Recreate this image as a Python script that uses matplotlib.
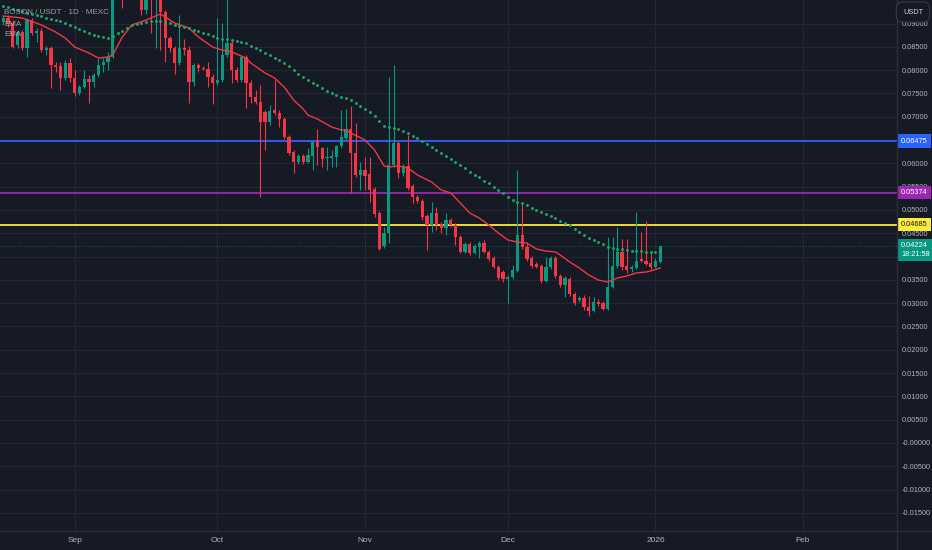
import numpy as np
import pandas as pd
import matplotlib
matplotlib.use("Agg")
import matplotlib.pyplot as plt
from matplotlib.lines import Line2D

# BOSON/USDT daily candles, 2025-08-17 .. 2026-01-02 (prices in 1e-3 USDT)
start_date = "2025-08-17"
opens = [90.34, 91.20, 90.12, 85.40, 88.19, 84.76, 90.77, 87.98, 88.41, 84.33,
         84.76, 81.11, 80.90, 78.32, 81.54, 78.32, 75.10, 76.39, 78.11, 77.46,
         78.97, 81.11, 81.75, 82.83, 97.21, 100.43, 98.28, 99.35, 96.78, 98.28,
         92.91, 96.13, 95.49, 96.35, 92.48, 86.91, 84.76, 81.54, 84.76, 84.33,
         77.46, 81.11, 80.47, 80.25, 78.54, 77.25, 77.89, 83.26, 85.83, 80.04,
         77.89, 82.83, 77.25, 74.24, 73.17, 71.02, 68.88, 71.45, 70.81, 69.52,
         65.66, 62.44, 60.30, 61.58, 60.30, 61.58, 64.80, 63.30, 61.15, 61.15,
         61.37, 63.73, 65.45, 67.38, 62.23, 57.51, 58.58, 57.72, 54.50, 49.35,
         42.27, 45.06, 59.65, 64.37, 57.93, 59.44, 55.14, 52.79, 51.93, 48.71,
         46.78, 49.35, 46.99, 46.13, 47.85, 46.78, 44.20, 40.98, 42.70, 40.77,
         42.05, 42.91, 40.98, 39.69, 37.76, 36.69, 35.19, 35.62, 36.90, 44.63,
         42.05, 39.69, 38.41, 37.98, 34.76, 37.76, 39.69, 35.83, 33.90, 35.19,
         31.97, 30.68, 31.11, 29.18, 28.32, 30.25, 30.04, 28.75, 33.47, 37.98,
         40.98, 37.98, 37.33, 37.55, 39.48, 39.05, 38.62, 37.76, 38.84]
highs = [91.84, 91.84, 90.77, 88.62, 88.62, 91.20, 91.20, 89.05, 89.05, 85.19,
         85.19, 81.75, 81.75, 82.18, 82.61, 80.04, 76.82, 80.04, 78.97, 79.39,
         82.61, 82.61, 83.90, 98.28, 102.57, 101.50, 101.07, 100.43, 99.78, 99.35,
         97.21, 97.64, 97.64, 97.64, 92.91, 87.33, 85.19, 91.84, 86.69, 85.19,
         81.54, 81.54, 80.90, 81.75, 79.18, 91.20, 90.12, 96.13, 86.48, 80.68,
         83.26, 83.26, 77.89, 75.75, 76.82, 71.45, 72.53, 77.89, 71.45, 69.95,
         66.09, 62.87, 62.01, 62.01, 63.30, 65.02, 67.38, 63.51, 63.51, 62.87,
         63.94, 71.45, 71.67, 72.31, 68.66, 60.30, 61.37, 61.37, 54.93, 49.78,
         46.35, 78.54, 81.11, 64.80, 59.87, 66.09, 55.57, 53.21, 52.36, 49.14,
         51.71, 50.64, 47.42, 49.35, 48.28, 47.20, 44.63, 43.13, 43.13, 42.70,
         43.34, 43.56, 41.41, 40.12, 38.19, 37.12, 36.05, 38.19, 58.58, 51.50,
         43.13, 40.12, 38.84, 38.41, 39.91, 40.12, 40.12, 36.26, 35.83, 35.62,
         32.40, 31.54, 31.75, 31.54, 31.33, 30.90, 30.47, 44.20, 44.20, 46.35,
         43.77, 43.77, 38.19, 49.56, 45.27, 47.63, 40.98, 39.69, 42.27]
lows = [89.70, 89.27, 84.76, 84.76, 84.33, 82.83, 87.55, 86.05, 83.90, 83.26,
        76.18, 79.61, 75.75, 77.89, 77.46, 74.46, 74.67, 76.18, 72.96, 76.39,
        78.54, 79.61, 80.04, 82.61, 96.13, 93.34, 96.13, 95.49, 95.70, 91.84,
        92.06, 87.98, 84.76, 84.33, 81.75, 83.90, 79.18, 81.11, 83.26, 72.96,
        76.60, 79.61, 80.04, 76.39, 72.74, 76.82, 77.46, 82.83, 77.25, 77.46,
        77.46, 71.88, 72.96, 72.74, 52.79, 62.87, 68.24, 70.38, 67.81, 65.23,
        61.80, 57.93, 59.87, 59.87, 60.08, 58.58, 59.65, 59.22, 58.58, 59.22,
        59.22, 63.30, 65.02, 53.64, 57.08, 54.29, 54.29, 51.71, 48.49, 41.41,
        41.84, 42.91, 59.22, 56.86, 57.29, 54.29, 51.50, 51.50, 47.85, 41.41,
        45.27, 45.70, 45.06, 44.63, 46.35, 42.48, 40.77, 40.77, 40.34, 40.55,
        39.69, 40.77, 39.05, 37.55, 34.97, 34.54, 30.04, 35.19, 36.69, 41.63,
        39.05, 37.55, 37.55, 34.33, 34.54, 37.33, 35.40, 33.47, 31.33, 31.54,
        29.61, 30.25, 28.53, 27.25, 28.11, 29.39, 28.53, 28.53, 33.26, 37.55,
        37.12, 36.48, 36.69, 37.33, 38.84, 38.19, 37.33, 37.55, 38.62]
closes = [91.20, 89.91, 84.97, 88.19, 84.76, 90.77, 87.98, 88.41, 84.33, 84.76,
          81.11, 80.68, 78.32, 81.54, 78.32, 75.10, 76.39, 78.11, 77.46, 78.97,
          81.11, 81.75, 82.83, 97.21, 100.43, 98.28, 99.35, 96.78, 98.28, 92.91,
          96.13, 95.49, 96.35, 92.48, 86.91, 84.76, 81.54, 84.76, 84.33, 77.46,
          81.11, 80.47, 80.25, 78.54, 77.25, 77.89, 83.26, 85.83, 80.04, 77.89,
          82.83, 77.25, 74.24, 73.17, 68.88, 68.88, 71.24, 70.81, 69.52, 65.66,
          62.23, 60.30, 61.58, 60.30, 61.80, 64.59, 63.51, 60.94, 61.37, 61.58,
          63.73, 65.66, 67.38, 62.23, 57.51, 58.58, 57.29, 54.29, 49.14, 41.63,
          45.06, 59.65, 64.37, 57.93, 59.44, 54.71, 52.79, 51.93, 48.49, 46.78,
          49.35, 46.78, 46.13, 47.85, 46.78, 44.20, 40.98, 42.70, 40.77, 42.27,
          42.91, 40.98, 39.48, 37.76, 35.40, 35.19, 35.62, 37.12, 44.63, 42.05,
          39.48, 37.98, 37.76, 34.76, 37.76, 39.69, 35.83, 33.90, 35.40, 31.97,
          30.04, 31.11, 29.18, 28.32, 30.25, 29.82, 28.75, 33.47, 37.98, 40.98,
          37.76, 37.12, 37.76, 39.05, 39.05, 38.41, 37.76, 39.05, 42.24]

# slow EMA (dotted), one value per candle
ema_slow = [93.77, 93.56, 93.13, 92.91, 92.70, 92.27, 92.06, 91.84, 91.63, 91.20,
            90.98, 90.77, 90.55, 90.12, 89.70, 89.27, 88.84, 88.41, 87.98, 87.55,
            87.33, 87.12, 86.91, 87.33, 87.98, 88.41, 89.05, 89.70, 89.91, 90.12,
            90.34, 90.55, 90.55, 90.55, 90.34, 90.12, 89.70, 89.48, 89.27, 89.05,
            88.62, 88.41, 87.98, 87.76, 87.33, 86.91, 86.69, 86.69, 86.48, 86.26,
            86.05, 85.83, 85.19, 84.76, 84.33, 83.69, 83.26, 82.61, 82.18, 81.54,
            80.90, 80.04, 79.18, 78.54, 77.89, 77.25, 76.82, 76.18, 75.53, 75.10,
            74.67, 74.24, 74.03, 73.60, 72.96, 72.31, 71.67, 71.02, 70.17, 69.09,
            68.02, 67.81, 67.59, 67.38, 66.95, 66.52, 65.87, 65.45, 64.80, 64.16,
            63.51, 62.87, 62.23, 61.58, 60.94, 60.30, 59.65, 59.01, 58.15, 57.51,
            57.08, 56.22, 55.79, 54.93, 54.29, 53.64, 52.79, 52.14, 51.71, 51.50,
            51.07, 50.42, 49.99, 49.56, 49.14, 48.71, 48.28, 47.63, 47.20, 46.78,
            45.92, 45.27, 44.63, 43.99, 43.56, 43.13, 42.70, 42.05, 41.84, 41.63,
            41.63, 41.41, 41.20, 41.20, 41.20, 40.98, 40.98, 40.98, 41.20]

# fast EMA (red line), read at these candle numbers
ema_fast_idx = [0, 4, 8, 11, 13, 15, 18, 20, 22, 23, 25, 27, 30, 32, 33, 34, 36, 39, 41, 44,
                46, 48, 51, 52, 55, 57, 59, 61, 63, 64, 66, 69, 71, 72, 73, 76, 78, 80, 81, 83,
                85, 87, 90, 92, 94, 96, 98, 100, 102, 104, 106, 108, 110, 112, 114, 116, 117,
                119, 121, 123, 125, 127, 129, 131, 133, 135, 136, 138]
ema_fast = [91.63, 91.20, 89.70, 88.19, 86.91, 84.97, 83.69, 82.61, 82.83, 83.26,
            87.12, 89.70, 90.77, 91.63, 92.06, 91.41, 90.12, 89.05, 87.12, 84.97,
            84.33, 83.90, 82.61, 81.54, 79.39, 78.32, 76.39, 73.60, 71.67, 70.38,
            69.52, 67.81, 67.16, 67.16, 66.52, 65.02, 62.87, 59.44, 59.22, 59.44,
            59.01, 57.51, 56.00, 54.29, 53.64, 51.50, 49.35, 48.28, 46.78, 45.06,
            43.56, 43.13, 42.91, 41.63, 41.20, 40.98, 40.34, 38.84, 37.55, 36.05,
            34.97, 34.54, 35.40, 35.83, 36.48, 36.69, 36.90, 37.55]

# horizontal levels
levels = [64.75, 53.74, 46.85]
level_colors = ["#2962ff", "#9c27b0", "#ffeb3b"]
level_text = ["#ffffff", "#ffffff", "#131722"]
countdown = "18:21:58"

BG = "#161a25"
GRID = "#232733"
TXT = "#b2b5be"
UP = "#089981"
DOWN = "#f23645"

plt.rcParams["font.family"] = ["Liberation Sans Narrow", "Liberation Sans", "DejaVu Sans"]

o = np.array(opens) / 1000
h = np.array(highs) / 1000
l = np.array(lows) / 1000
c = np.array(closes) / 1000
n = len(c)
x = np.arange(n)
dates = pd.date_range(start_date, periods=n, freq="D")

W, H = 932, 550
fig = plt.figure(figsize=(W / 100, H / 100), dpi=100, facecolor=BG)
ax = fig.add_axes([0, 19 / H, 897 / W, 531 / H], facecolor=BG)

colors = np.where(c >= o, UP, DOWN)
ax.vlines(x, l, h, colors=colors, lw=0.8, zorder=3)
body = np.maximum(np.abs(c - o), 0.00022)
ax.bar(x, body, bottom=np.minimum(o, c), width=0.68, color=colors, zorder=4)

ax.plot(ema_fast_idx, np.array(ema_fast) / 1000, color=DOWN, lw=1.0, zorder=5)
ax.scatter(x, np.array(ema_slow) / 1000, s=4.5, color="#22a366", lw=0, zorder=5)

for lv, col in zip(levels, level_colors):
    ax.axhline(lv / 1000, color=col, lw=1.3, zorder=2)
ax.axhline(c[-1], color=UP, lw=0.7, ls=(0, (1, 2)), alpha=0.6, zorder=2)

# axes, scale
ax.set_xlim(-0.69, 187.75)
ax.set_ylim(-0.01889, 0.09506)
ticks = np.arange(-0.015, 0.0901, 0.005)
ax.set_yticks(ticks)
ax.set_yticklabels(["-0.00000" if abs(t) < 1e-9 else f"{t:.5f}" for t in ticks])
ax.yaxis.tick_right()

months = pd.date_range("2025-09-01", "2026-02-01", freq="MS")
month_pos = [(m - dates[0]).days for m in months]
month_lab = ["2026" if m.month == 1 else m.strftime("%b") for m in months]
ax.set_xticks(month_pos)
ax.set_xticklabels(month_lab)

ax.tick_params(axis="y", length=0, pad=3.4, labelsize=5.3, labelcolor=TXT)
ax.tick_params(axis="x", length=0, pad=4.0, labelsize=6, labelcolor=TXT)
for lab in ax.get_yticklabels():
    lab.set_horizontalalignment("left")
ax.grid(True, color=GRID, lw=0.8, zorder=0)
for sp in ax.spines.values():
    sp.set_visible(False)

fig.add_artist(Line2D([897 / W, 897 / W], [0, 1], color="#2a2e39", lw=1))
fig.add_artist(Line2D([0, 1], [19 / H, 19 / H], color="#2a2e39", lw=1))

# price tags on the scale
tr = ax.get_yaxis_transform()
for lv, col, tc in zip(levels, level_colors, level_text):
    ax.text(1 + 4 / 897, lv / 1000, f"{lv / 1000:.5f}", transform=tr, ha="left", va="center",
            fontsize=5.3, color=tc, clip_on=False, zorder=10,
            bbox=dict(boxstyle="square,pad=0.45", fc=col, ec="none"))
ax.text(1 + 4 / 897, c[-1] + 0.0008, f"{c[-1]:.5f}\n{countdown}", transform=tr, ha="left",
        va="top", fontsize=5.3, color="#ffffff", clip_on=False, zorder=10, linespacing=1.35,
        bbox=dict(boxstyle="square,pad=0.45", fc=UP, ec="none"))

fig.text(913 / W, 1 - 12 / H, "USDT", ha="center", va="center", fontsize=5.3, color="#d1d4dc",
         zorder=10, bbox=dict(boxstyle="round,pad=0.9", fc=BG, ec="#363a45", lw=0.8))

# legend
fig.text(4 / W, 1 - 12 / H, "BOSON / USDT · 1D · MEXC", fontsize=5.8, color=TXT,
         va="center", alpha=0.85)
fig.text(4 / W, 1 - 24 / H, "EMA", fontsize=5.8, color=TXT, va="center", alpha=0.85)
fig.text(4 / W, 1 - 35 / H, "EMA", fontsize=5.8, color=TXT, va="center", alpha=0.85)

fig.savefig("out.png", dpi=100, facecolor=BG)
